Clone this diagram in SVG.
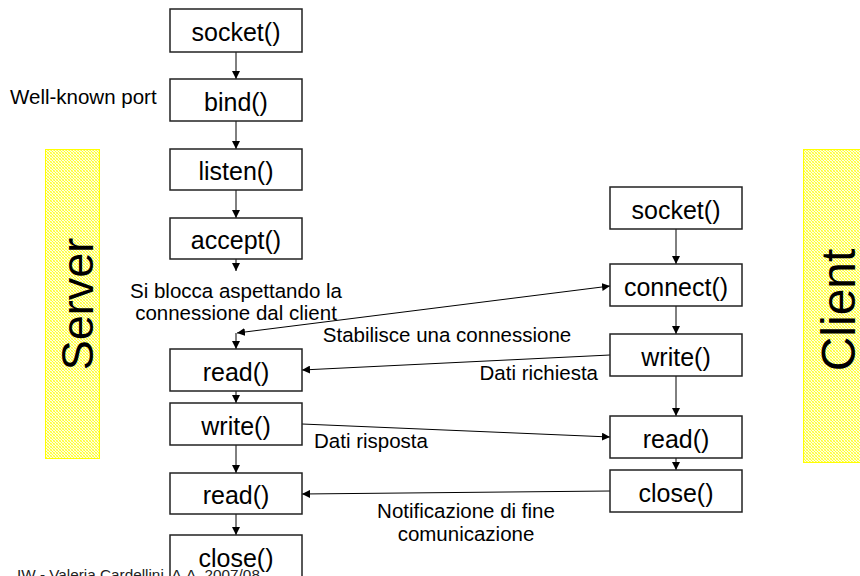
<svg xmlns="http://www.w3.org/2000/svg" width="860" height="576" viewBox="0 0 860 576">
  <defs>
    <!-- fine yellow hatch used on the side bands -->
    <pattern id="hatch" width="3" height="3" patternUnits="userSpaceOnUse">
      <rect width="3" height="3" fill="#ffffe0"/>
      <rect x="0" y="0" width="1" height="1" fill="#ffff30"/>
      <rect x="1" y="1" width="1" height="1" fill="#ffff30"/>
      <rect x="2" y="2" width="1" height="1" fill="#ffff30"/>
      <rect x="2" y="0" width="1" height="1" fill="#ffff80"/>
      <rect x="0" y="2" width="1" height="1" fill="#ffff80"/>
    </pattern>
    <marker id="arrow" viewBox="0 0 10 10" refX="10" refY="5" markerWidth="8" markerHeight="8" markerUnits="userSpaceOnUse" orient="auto-start-reverse">
      <path d="M0,0 L10,5 L0,10 z" fill="#000"/>
    </marker>
    <style>
      .box { fill: #fff; stroke: #222; stroke-width: 1.5; }
      .call { font-family: "Liberation Sans", Arial, sans-serif; font-size: 25px; fill: #000; text-anchor: middle; }
      .label { font-family: "Liberation Sans", Arial, sans-serif; font-size: 20.5px; fill: #000; }
      .side { font-family: "Liberation Sans", Arial, sans-serif; fill: #000; text-anchor: middle; }
      .band { fill: url(#hatch); stroke: #ffff00; stroke-width: 1; }
      .link { stroke: #000; stroke-width: 1; fill: none; marker-end: url(#arrow); }
      .footer { font-family: "Liberation Sans", Arial, sans-serif; font-size: 15.3px; fill: #222; }
    </style>
  </defs>

  <rect width="860" height="576" fill="#fff"/>

  <!-- side bands -->
  <g id="server-band">
    <rect class="band" x="45.5" y="149.5" width="54" height="309"/>
    <text class="side" font-size="45" transform="translate(93,304) rotate(-90)">Server</text>
  </g>
  <g id="client-band">
    <rect class="band" x="803.5" y="149.5" width="58" height="313"/>
    <text class="side" font-size="48" transform="translate(855,310) rotate(-90)">Client</text>
  </g>

  <!-- connectors -->
  <g id="connectors">
    <!-- server flow -->
    <line class="link" x1="236" y1="52" x2="236" y2="79"/>
    <line class="link" x1="236" y1="121" x2="236" y2="149"/>
    <line class="link" x1="236" y1="190" x2="236" y2="218"/>
    <line class="link" x1="236" y1="259" x2="236" y2="271"/>
    <line class="link" x1="236" y1="333" x2="236" y2="349"/>
    <line class="link" x1="236" y1="391" x2="236" y2="403"/>
    <line class="link" x1="236" y1="445" x2="236" y2="473"/>
    <line class="link" x1="236" y1="514" x2="236" y2="535"/>
    <!-- client flow -->
    <line class="link" x1="676" y1="229" x2="676" y2="264"/>
    <line class="link" x1="676" y1="306" x2="676" y2="334"/>
    <line class="link" x1="676" y1="376" x2="676" y2="416"/>
    <line class="link" x1="676" y1="458" x2="676" y2="470"/>
    <!-- exchanges -->
    <line class="link" x1="237" y1="333" x2="610" y2="286" marker-start="url(#arrow)"/>
    <line class="link" x1="610" y1="355" x2="302" y2="370"/>
    <line class="link" x1="302" y1="424" x2="610" y2="437"/>
    <line class="link" x1="610" y1="491" x2="302" y2="494"/>
  </g>

  <!-- server nodes -->
  <g id="s-socket"><rect class="box" x="170" y="9" width="132" height="43"/><text class="call" x="236" y="41">socket()</text></g>
  <g id="s-bind"><rect class="box" x="170" y="79" width="132" height="42"/><text class="call" x="236" y="111">bind()</text></g>
  <g id="s-listen"><rect class="box" x="170" y="149" width="132" height="41"/><text class="call" x="236" y="180">listen()</text></g>
  <g id="s-accept"><rect class="box" x="170" y="218" width="132" height="41"/><text class="call" x="236" y="249">accept()</text></g>
  <g id="s-read1"><rect class="box" x="170" y="349" width="132" height="42"/><text class="call" x="236" y="381">read()</text></g>
  <g id="s-write"><rect class="box" x="170" y="403" width="132" height="42"/><text class="call" x="236" y="435">write()</text></g>
  <g id="s-read2"><rect class="box" x="170" y="473" width="132" height="41"/><text class="call" x="236" y="504">read()</text></g>
  <g id="s-close"><rect class="box" x="170" y="535" width="132" height="50"/><text class="call" x="236" y="567">close()</text></g>

  <!-- client nodes -->
  <g id="c-socket"><rect class="box" x="610" y="187" width="132" height="42"/><text class="call" x="676" y="219">socket()</text></g>
  <g id="c-connect"><rect class="box" x="610" y="264" width="132" height="42"/><text class="call" x="676" y="296">connect()</text></g>
  <g id="c-write"><rect class="box" x="610" y="334" width="132" height="42"/><text class="call" x="676" y="366">write()</text></g>
  <g id="c-read"><rect class="box" x="610" y="416" width="132" height="42"/><text class="call" x="676" y="448">read()</text></g>
  <g id="c-close"><rect class="box" x="610" y="470" width="132" height="42"/><text class="call" x="676" y="502">close()</text></g>

  <!-- annotations -->
  <g id="labels">
    <text class="label" x="10" y="104">Well-known port</text>
    <text class="label" x="236" y="298" text-anchor="middle">Si blocca aspettando la</text>
    <text class="label" x="236" y="320" text-anchor="middle">connessione dal client</text>
    <text class="label" x="447" y="342" text-anchor="middle">Stabilisce una connessione</text>
    <text class="label" x="598" y="380" text-anchor="end">Dati richiesta</text>
    <text class="label" x="314" y="448">Dati risposta</text>
    <text class="label" x="466" y="518" text-anchor="middle">Notificazione di fine</text>
    <text class="label" x="466" y="541" text-anchor="middle">comunicazione</text>
  </g>

  <text class="footer" x="17" y="580">IW - Valeria Cardellini, A.A. 2007/08</text>
</svg>
